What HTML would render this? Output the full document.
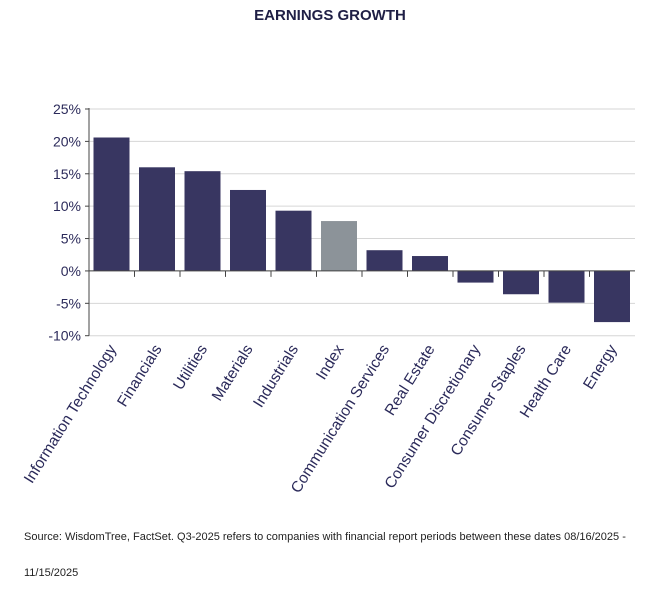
<!DOCTYPE html>
<html><head><meta charset="utf-8"><style>
body{margin:0;background:#fff;width:658px;height:590px;overflow:hidden;font-family:"Liberation Sans",sans-serif}
svg{display:block}
</style></head><body>
<svg width="658" height="590">
<text x="330" y="20" text-anchor="middle" font-size="15" font-weight="bold" fill="#1f1f45">EARNINGS GROWTH</text>
<g id="grid"></g><g id="bars"></g><g id="axis"></g><g id="labels"></g>
<text x="24" y="540" font-size="11" fill="#222">Source: WisdomTree, FactSet. Q3-2025 refers to companies with financial report periods between these dates 08/16/2025 -</text>
<text x="24" y="576" font-size="11" fill="#222">11/15/2025</text>
</svg>
<script>
const categories=["Information Technology","Financials","Utilities","Materials","Industrials","Index","Communication Services","Real Estate","Consumer Discretionary","Consumer Staples","Health Care","Energy"];
const values=[20.6,16.0,15.4,12.5,9.3,7.7,3.2,2.3,-1.8,-3.6,-4.9,-7.9];
const ticks=[25,20,15,10,5,0,-5,-10];
const tickLabels=["25%","20%","15%","10%","5%","0%","-5%","-10%"];
const NS="http://www.w3.org/2000/svg";
const x0=89,band=45.5,yTop=109,yBot=335.7,vMax=25,vMin=-10;
const y=v=>yTop+(vMax-v)/(vMax-vMin)*(yBot-yTop);
const xs=i=>x0+i*band;
function mk(t,a,p){const e=document.createElementNS(NS,t);for(const k in a)e.setAttribute(k,a[k]);document.getElementById(p).appendChild(e);return e;}
const right=x0+categories.length*band;
ticks.forEach((t,i)=>{
 const g=mk("line",{x1:x0,x2:right,y1:y(t),y2:y(t),stroke:"#d6d6d6","stroke-width":1},"grid");
 
 
 mk("line",{x1:x0-4,x2:x0,y1:y(t),y2:y(t),stroke:"#444"},"axis");
 const l=mk("text",{x:x0-8,y:y(t)+5,"text-anchor":"end","font-size":14,fill:"#2b2a5a"},"axis");
 l.textContent=tickLabels[i];
 
 
});
mk("line",{x1:x0,x2:x0,y1:y(25)-1,y2:y(-10),stroke:"#444"},"axis");
mk("line",{x1:x0,x2:right,y1:y(0),y2:y(0),stroke:"#444"},"axis");
categories.forEach((c,i)=>{
 const v=values[i],bx=xs(i)+4.5,bw=36;
 const r=mk("rect",{x:bx,y:Math.min(y(v),y(0)),width:bw,height:Math.abs(y(v)-y(0)),fill:c==="Index"?"#8c9399":"#383661"},"bars");
 
 
 if(i>0)mk("line",{x1:xs(i),x2:xs(i),y1:y(0),y2:y(0)+6,stroke:"#444"},"axis");
 const cx=xs(i)+band/2+5;
 const t=mk("text",{x:cx,y:y(-10)+13,"text-anchor":"end","font-size":15.5,fill:"#2b2a5a",transform:`rotate(-58 ${cx} ${y(-10)+13})`},"labels");
 t.textContent=c;
 
 
});
</script>
</body></html>
